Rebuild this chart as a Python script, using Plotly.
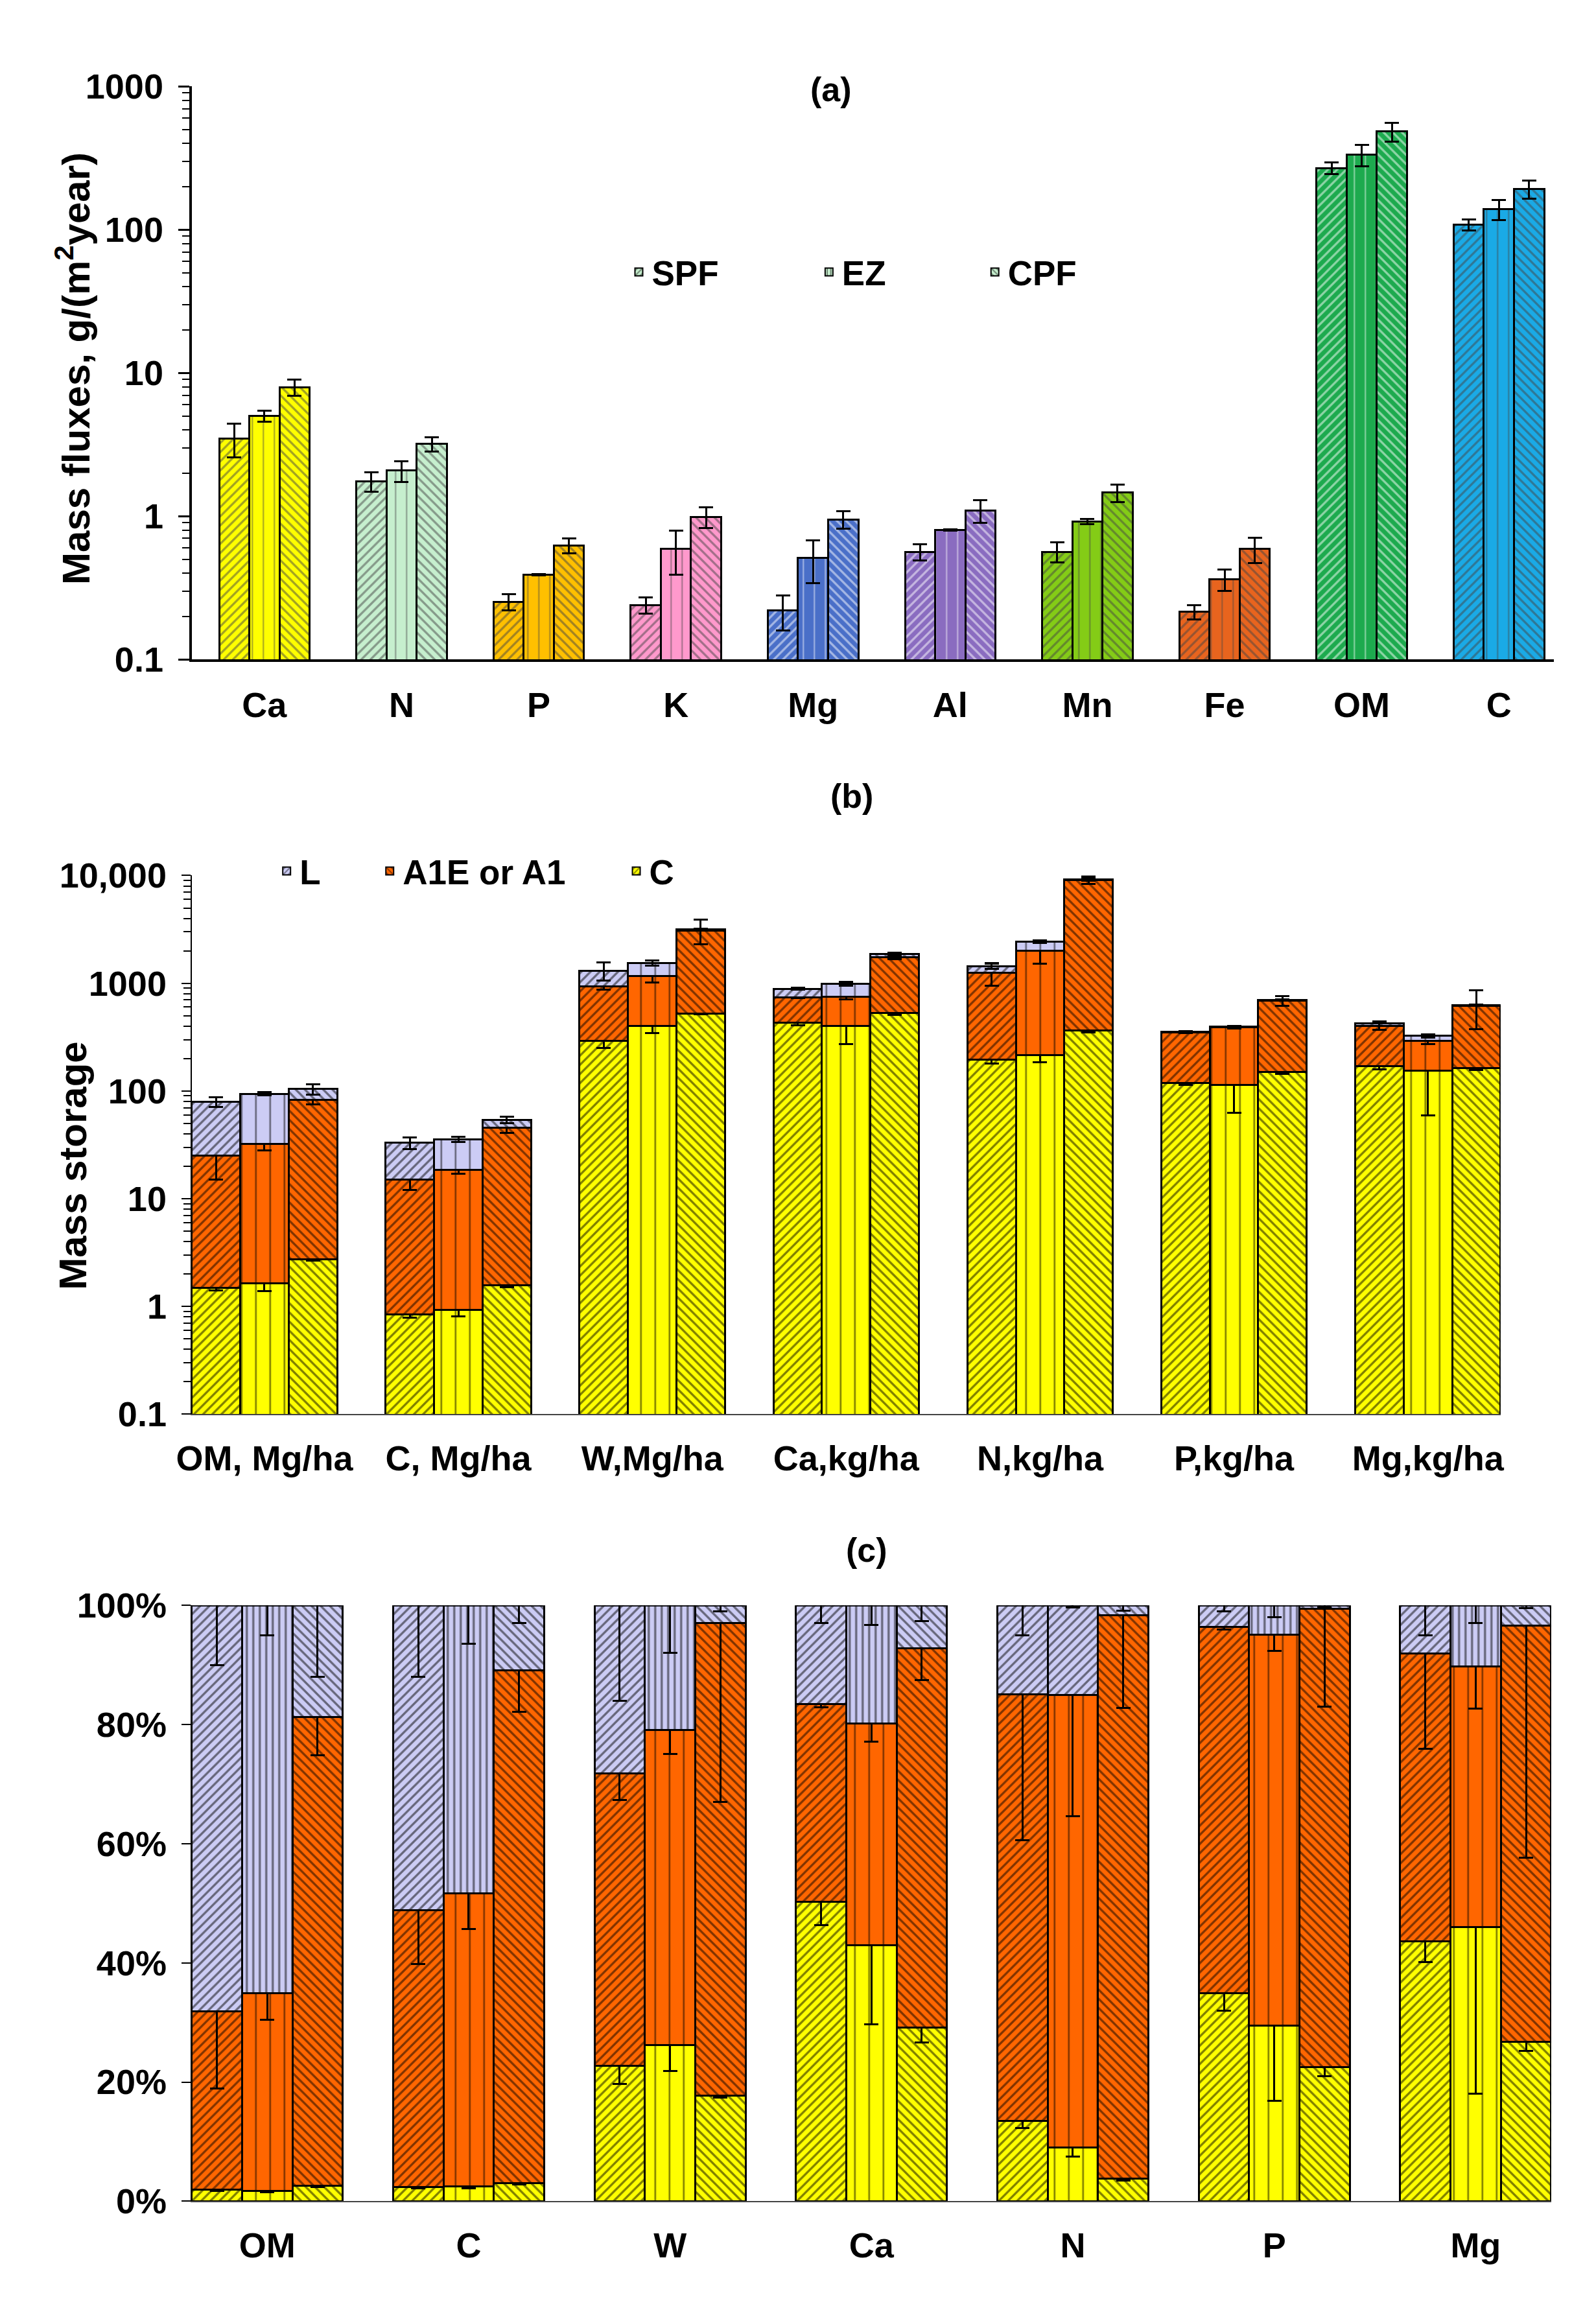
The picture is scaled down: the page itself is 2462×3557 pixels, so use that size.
import plotly.graph_objects as go

FONT = "Liberation Sans"

# ---------------- (a) mass fluxes, g/(m2 year)
elements_a = ["Ca", "N", "P", "K", "Mg", "Al", "Mn", "Fe", "OM", "C"]
spf_a = [3.5, 1.75, 0.253, 0.24, 0.22, 0.565, 0.565, 0.215, 270, 108]
ez_a = [5.0, 2.08, 0.39, 0.59, 0.51, 0.80, 0.92, 0.362, 335, 139]
cpf_a = [7.95, 3.2, 0.626, 0.99, 0.95, 1.1, 1.46, 0.59, 485, 192]
spf_a_err = [0.92, 0.27, 0.032, 0.032, 0.06, 0.075, 0.09, 0.025, 26, 9.5]
ez_a_err = [0.45, 0.35, 0.004, 0.2, 0.17, 0.01, 0.04, 0.062, 57, 22]
cpf_a_err = [1.05, 0.36, 0.075, 0.16, 0.13, 0.2, 0.21, 0.12, 72, 28]
colors_a = ["#FFFF00", "#C6EFCE", "#FFC000", "#FF99CC", "#4A6FC8",
            "#8A6CC0", "#84CC16", "#E8641E", "#1DAA4E", "#1AAAE6"]

# ---------------- (b) mass storage (layer masses, stacked)
groups_b = ["OM, Mg/ha", "C, Mg/ha", "W,Mg/ha", "Ca,kg/ha", "N,kg/ha", "P,kg/ha", "Mg,kg/ha"]
c_spf_b = [1.48, 0.84, 292, 433, 194, 119, 171]
a1_spf_b = [23.5, 14.2, 645, 307, 1048, 231, 228]
l_spf_b = [54, 18, 373, 150, 194, 5, 25]
c_ez_b = [1.64, 0.93, 403, 403, 214, 113, 154]
a1_ez_b = [30.4, 17.7, 764, 346, 1781, 277, 139]
l_ez_b = [62, 17.1, 373, 241, 435, 8, 31]
c_cpf_b = [2.75, 1.56, 522, 532, 364, 150, 162]
a1_cpf_b = [80.2, 44, 2568, 1208, 8736, 540, 458]
l_cpf_b = [21, 8.4, 90, 140, 160, 10, 8]
c_spf_b_err = [0.08, 0.05, 40, 25, 15, 5, 12]
a1_spf_b_err = [10, 3, 60, 15, 300, 5, 30]
l_spf_b_err = [8, 4, 250, 20, 80, 3, 20]
c_ez_b_err = [0.25, 0.12, 60, 130, 30, 50, 95]
a1_ez_b_err = [4, 1.5, 150, 40, 470, 10, 20]
l_ez_b_err = [3, 2, 80, 40, 60, 4, 10]
c_cpf_b_err = [0.1, 0.06, 10, 25, 15, 6, 6]
a1_cpf_b_err = [8, 5, 800, 60, 700, 70, 245]
l_cpf_b_err = [12, 4, 30, 50, 300, 5, 5]

# ---------------- (c) relative storage, %
groups_c = ["OM", "C", "W", "Ca", "N", "P", "Mg"]
c_spf_c = [2.0, 2.4, 22.7, 50.3, 13.5, 34.9, 43.6]
a1_spf_c = [29.9, 46.4, 49.1, 33.1, 71.6, 61.5, 48.3]
l_spf_c = [68.1, 51.2, 28.2, 16.6, 14.9, 3.6, 8.1]
c_ez_c = [1.7, 2.5, 26.2, 43.0, 9.0, 29.5, 46.0]
a1_ez_c = [33.2, 49.2, 52.9, 37.2, 76.0, 65.6, 43.7]
l_ez_c = [65.1, 48.3, 20.9, 19.8, 15.0, 4.9, 10.3]
c_cpf_c = [2.6, 3.0, 17.7, 29.1, 3.8, 22.5, 26.8]
a1_cpf_c = [78.7, 86.1, 79.3, 63.7, 94.5, 76.9, 69.8]
l_cpf_c = [18.7, 10.9, 3.0, 7.2, 1.7, 0.6, 3.4]
c_spf_c_err = [0.3, 0.2, 3.0, 4.0, 1.2, 2.9, 3.5]
a1_spf_c_err = [13, 9, 4.5, 0.5, 24.5, 0.5, 16]
l_spf_c_err = [10, 12, 16, 3, 5, 1, 5]
c_ez_c_err = [0.2, 0.3, 4.3, 13.3, 1.5, 12.6, 28]
a1_ez_c_err = [4.5, 6, 4, 3.1, 20.4, 2.8, 7]
l_ez_c_err = [5, 6.5, 8, 3.3, 0.4, 2, 3]
c_cpf_c_err = [0.2, 0.2, 0.3, 2.5, 0.3, 1.5, 1.6]
a1_cpf_c_err = [6.5, 7, 30, 5.3, 15.5, 16.4, 39]
l_cpf_c_err = [12, 3, 1, 2.7, 0.9, 0.3, 0.5]

sites = ["SPF", "EZ", "CPF"]
site_shape = {"SPF": "/", "EZ": "|", "CPF": "\\"}
layer_colors = {"C": "#FFFF00", "A1E or A1": "#FF6600", "L": "#CCCCF5"}
legend_green = "#C6EFCE"


def patt(shape, vertical_size=18, diag_size=10):
    if isinstance(shape, list):
        size = diag_size
    else:
        size = vertical_size if shape == "|" else diag_size
    return dict(shape=shape, fgcolor="black", fillmode="overlay",
                size=size, solidity=0.33 if size == diag_size else 0.12)


def err(arr):
    return dict(type="data", array=arr, color="black", thickness=3, width=11)


fig = go.Figure()

# (a)
offs_a = {"SPF": -0.22, "EZ": 0.0, "CPF": 0.22}
for site, vals, errs in zip(sites, [spf_a, ez_a, cpf_a], [spf_a_err, ez_a_err, cpf_a_err]):
    fig.add_trace(go.Bar(
        x=[i + offs_a[site] for i in range(len(elements_a))], y=vals, width=0.22,
        marker=dict(color=colors_a, line=dict(color="black", width=3),
                    pattern=patt(site_shape[site], vertical_size=17)),
        error_y=err(errs), showlegend=False, xaxis="x", yaxis="y"))

# (b) and (c) stacked
offs_bc = {"SPF": -0.25, "EZ": 0.0, "CPF": 0.25}
data_b = {
    "SPF": [(c_spf_b, c_spf_b_err), (a1_spf_b, a1_spf_b_err), (l_spf_b, l_spf_b_err)],
    "EZ": [(c_ez_b, c_ez_b_err), (a1_ez_b, a1_ez_b_err), (l_ez_b, l_ez_b_err)],
    "CPF": [(c_cpf_b, c_cpf_b_err), (a1_cpf_b, a1_cpf_b_err), (l_cpf_b, l_cpf_b_err)],
}
data_c = {
    "SPF": [(c_spf_c, c_spf_c_err), (a1_spf_c, a1_spf_c_err), (l_spf_c, l_spf_c_err)],
    "EZ": [(c_ez_c, c_ez_c_err), (a1_ez_c, a1_ez_c_err), (l_ez_c, l_ez_c_err)],
    "CPF": [(c_cpf_c, c_cpf_c_err), (a1_cpf_c, a1_cpf_c_err), (l_cpf_c, l_cpf_c_err)],
}
stack_order = ["C", "A1E or A1", "L"]
for data, xa, ya, n in [(data_b, "x2", "y2", len(groups_b)), (data_c, "x3", "y3", len(groups_c))]:
    for site in sites:
        for layer, (vals, errs) in zip(stack_order, data[site]):
            shape = site_shape[site]
            if xa == "x3" and site == "EZ" and layer == "L":
                # N column of EZ is hatched like SPF in the original
                shape = ["|", "|", "|", "|", "/", "|", "|"]
            fig.add_trace(go.Bar(
                x=[i + offs_bc[site] for i in range(n)], y=vals, width=0.25,
                marker=dict(color=layer_colors[layer], line=dict(color="black", width=3),
                            pattern=patt(shape, vertical_size=22)),
                error_y=err(errs), showlegend=False, xaxis=xa, yaxis=ya))

# legend entries (one legend per entry so they sit where the original has them)
leg_entries = [
    ("SPF", legend_green, "/", "legend"),
    ("EZ", legend_green, "|", "legend2"),
    ("CPF", legend_green, "\\", "legend3"),
    ("L", layer_colors["L"], "/", "legend4"),
    ("A1E or A1", layer_colors["A1E or A1"], "\\", "legend5"),
    ("C", layer_colors["C"], "/", "legend6"),
]
for name, col, shp, lg in leg_entries:
    fig.add_trace(go.Bar(
        x=[None], y=[None], name=name, legend=lg, showlegend=True,
        marker=dict(color=col, line=dict(color="black", width=2),
                    pattern=dict(shape=shp, fgcolor="black", fillmode="overlay", size=7, solidity=0.3)),
        xaxis="x", yaxis="y"))


def leg(x, y):
    return dict(x=x, y=y, xanchor="left", yanchor="middle", orientation="h",
                font=dict(family=FONT, size=53, weight="bold", color="black"),
                bgcolor="rgba(0,0,0,0)", borderwidth=0)


W, H = 2462, 3557
tickfont = dict(family=FONT, size=54, weight="bold", color="black")
titlefont = dict(family=FONT, size=60, weight="bold", color="black")
minor_log = dict(ticks="outside", ticklen=11, tickwidth=2, tickcolor="black", dtick="D1", showgrid=False)

fig.update_layout(
    width=W, height=H, barmode="stack",
    margin=dict(l=0, r=0, t=0, b=0),
    paper_bgcolor="white", plot_bgcolor="white",
    font=dict(family=FONT, color="black"),
    # (a)
    xaxis=dict(domain=[267 / W, 2394 / W], anchor="y", range=[-0.53, 9.4],
               tickmode="array", tickvals=list(range(len(elements_a))), ticktext=elements_a,
               ticks="", showline=True, linecolor="black", linewidth=4,
               tickfont=tickfont, ticklabelstandoff=20, showgrid=False, zeroline=False),
    yaxis=dict(domain=[1 - 996 / H, 1 - 97 / H], anchor="x", type="log", range=[-1, 3],
               tickmode="array", tickvals=[0.1, 1, 10, 100, 1000],
               ticktext=["0.1", "1", "10", "100", "1000"],
               ticks="outside", ticklen=17, tickwidth=3, tickcolor="black",
               showline=True, linecolor="black", linewidth=4, minor=minor_log,
               tickfont=tickfont, ticklabelstandoff=12, showgrid=False, zeroline=False),
    # (b)
    xaxis2=dict(domain=[267 / W, 2311 / W], anchor="y2", range=[-0.375, 6.375],
                tickmode="array", tickvals=list(range(len(groups_b))), ticktext=groups_b,
                ticks="", showline=True, linecolor="#444444", linewidth=2,
                tickfont=tickfont, ticklabelstandoff=20, showgrid=False, zeroline=False),
    yaxis2=dict(domain=[1 - 2180 / H, 1 - 1335 / H], anchor="x2", type="log", range=[-1, 4],
                tickmode="array", tickvals=[0.1, 1, 10, 100, 1000, 10000],
                ticktext=["0.1", "1", "10", "100", "1000", "10,000"],
                ticks="outside", ticklen=14, tickwidth=2, tickcolor="black",
                showline=True, linecolor="black", linewidth=2, minor=minor_log,
                tickfont=tickfont, ticklabelstandoff=12, showgrid=False, zeroline=False),
    # (c)
    xaxis3=dict(domain=[267 / W, 2390 / W], anchor="y3", range=[-0.375, 6.375],
                tickmode="array", tickvals=list(range(len(groups_c))), ticktext=groups_c,
                ticks="", showline=True, linecolor="#444444", linewidth=2,
                tickfont=tickfont, ticklabelstandoff=20, showgrid=False, zeroline=False),
    yaxis3=dict(domain=[1 - 3415 / H, 1 - 2480 / H], anchor="x3", range=[0, 100],
                tickmode="linear", dtick=20, ticksuffix="%",
                ticks="outside", ticklen=14, tickwidth=2, tickcolor="black",
                showline=True, linecolor="black", linewidth=2,
                tickfont=tickfont, ticklabelstandoff=12, showgrid=False, zeroline=False),
    legend=leg(945 / W, 1 - 388 / H),
    legend2=leg(1242 / W, 1 - 388 / H),
    legend3=leg(1501 / W, 1 - 388 / H),
    legend4=leg(395 / W, 1 - 1328 / H),
    legend5=leg(556 / W, 1 - 1328 / H),
    legend6=leg(941 / W, 1 - 1328 / H),
    annotations=[
        dict(text=t, x=x / W, y=1 - y / H, xref="paper", yref="paper", showarrow=False,
             xanchor="center", yanchor="middle",
             font=dict(family=FONT, size=52, weight="bold", color="black"))
        for t, x, y in [("(a)", 1265, 102), ("(b)", 1298, 1210), ("(c)", 1321, 2393)]
    ] + [
        # rotated y titles, both at the same distance from the figure edge as in the original
        dict(text=t, textangle=-90, x=82 / W, y=1 - y / H,
             xref="paper", yref="paper", xanchor="center", yanchor="middle",
             showarrow=False, font=titlefont)
        for t, y in [("Mass fluxes, g/(m<sup>2</sup>year)", 540), ("Mass storage", 1790)]
    ],
)

fig.write_html("out.html")
